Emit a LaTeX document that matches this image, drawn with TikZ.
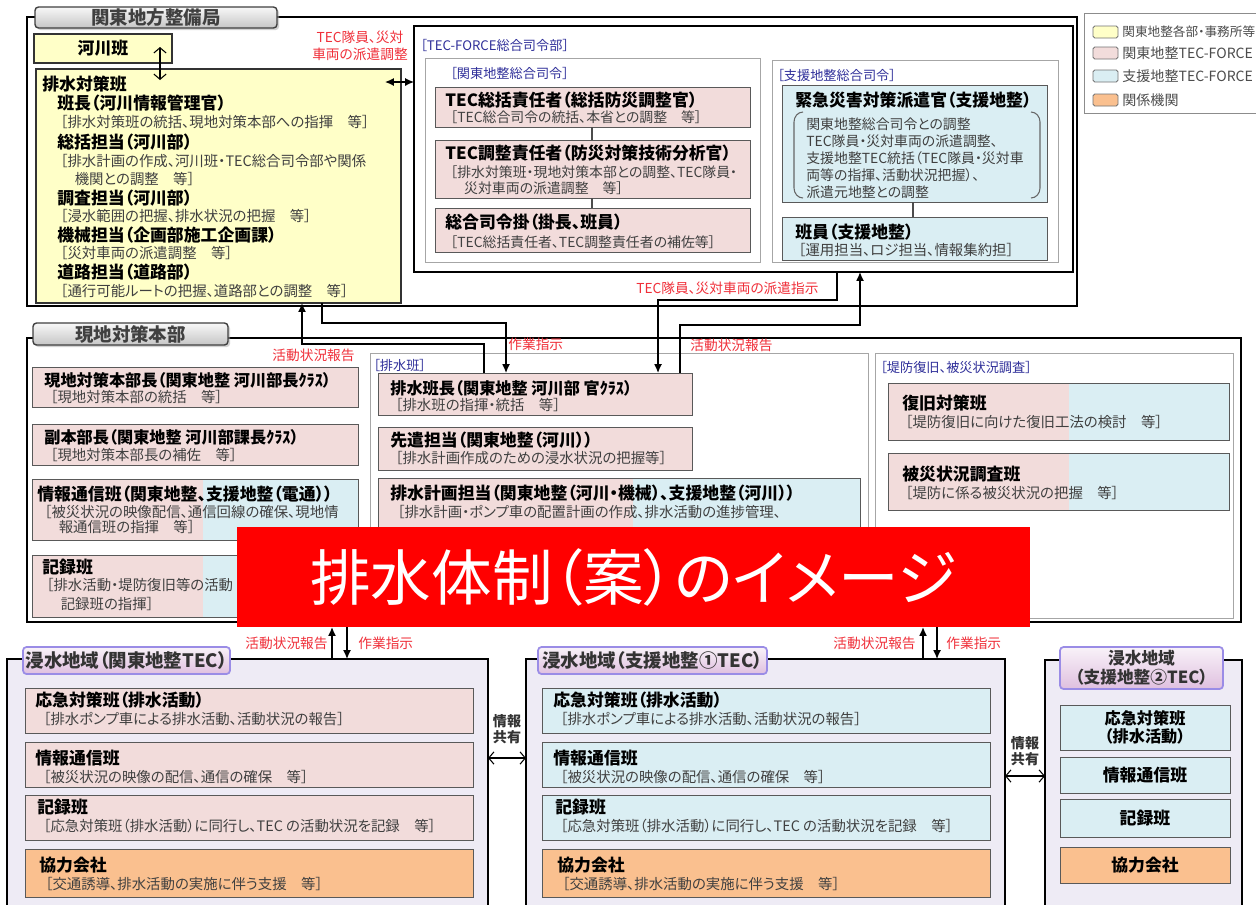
\documentclass[tikz,border=0pt]{standalone}
\usepackage{fontspec}
\setmainfont{Noto Sans CJK JP}[RawFeature={+palt}]
\usetikzlibrary{calc,arrows.meta,shadows}
\definecolor{yel}{HTML}{FFFFC8}
\definecolor{pnk}{HTML}{F2DCDB}
\definecolor{blu}{HTML}{DAEEF3}
\definecolor{org}{HTML}{FAC08F}
\definecolor{lav}{HTML}{EEEBF5}
\definecolor{redt}{HTML}{F0303A}
\definecolor{bluet}{HTML}{30309A}
\definecolor{bnr}{HTML}{FF0000}
\definecolor{subc}{HTML}{404040}
\definecolor{purp}{HTML}{9A8CE6}
\newcommand\mybox[6]{\node[#6, minimum width={(#4-#2)*0.02cm}, minimum height={(#5-#3)*0.02cm}] (#1) at (#2,#3) {};}
\tikzset{
 bx/.style={draw=black!65, line width=0.5pt, inner sep=0pt, outer sep=0pt, anchor=north west},
 outerbox/.style={draw=black, line width=1.1pt, inner sep=0pt, outer sep=0pt, anchor=north west},
 grp/.style={draw=black!35, line width=0.5pt, inner sep=0pt, outer sep=0pt, anchor=north west, fill=white},
 yb/.style={bx, fill=yel, draw=black!80, line width=0.8pt},
 pb/.style={bx, fill=pnk},
 cb/.style={bx, fill=blu},
 ob/.style={bx, fill=org},
 splitbox/.style={bx, fill=pnk, path picture={\fill[blu] ($(path picture bounding box.south west)!#1!(path picture bounding box.south east)$) rectangle (path picture bounding box.north east);}},
 gtab/.style={bx, rounded corners=2pt, draw=black!75, line width=0.8pt, top color=gray!6, bottom color=gray!45, drop shadow={shadow xshift=1.2pt, shadow yshift=-1.2pt, fill=black!35}},
 ptab/.style={bx, rounded corners=2pt, draw=purp, line width=1pt, top color=violet!5, bottom color=violet!25},
 ttl/.style={inner sep=0pt, anchor=west, font=\fontsize{9.6}{11}\selectfont\bfseries},
 ttk/.style={ttl, font=\fontsize{9.2}{11}\selectfont\bfseries},
 sbt/.style={inner sep=0pt, anchor=west, text=subc, font=\fontsize{8.2}{9.5}\selectfont},
 sbk/.style={sbt, font=\fontsize{7.9}{9.5}\selectfont},
 blab/.style={inner sep=0pt, anchor=west, text=bluet, font=\fontsize{7.5}{9}\selectfont},
 rlab/.style={inner sep=0pt, text=redt, font=\fontsize{7.8}{9.5}\selectfont},
 tabt/.style={inner sep=0pt, text=black!75, font=\fontsize{10.5}{12}\selectfont\bfseries},
 legt/.style={inner sep=0pt, anchor=west, text=black!70, font=\fontsize{8}{9}\selectfont},
 arr/.style={draw=black, line width=0.8pt, -{Latex[length=5pt,width=4.5pt]}},
 conn/.style={draw=black!70, line width=0.6pt},
 dbl/.style={draw=black, line width=0.6pt, {Straight Barb[length=3pt,width=7pt]}-{Straight Barb[length=3pt,width=7pt]}},
 dblf/.style={draw=black, line width=0.7pt, {Latex[length=5pt,width=4.5pt]}-{Latex[length=5pt,width=4.5pt]}},
}
\begin{document}
\begin{tikzpicture}[x=0.02cm,y=-0.02cm]
\path[use as bounding box] (0,0) rectangle (1256,904);
\clip (0,0) rectangle (1256,904);
\fill[white] (0,0) rectangle (1256,904);

% ===== top: 関東地方整備局 =====
\mybox{kanto}{27}{17}{1077}{306}{outerbox}
\mybox{kantotab}{35}{7}{277}{28}{gtab}
\node[tabt] (kantoT) at (kantotab) {関東地方整備局};

\mybox{kasen}{34}{34}{172}{63}{yb}
\node[ttl, anchor=center] (kasenT) at (kasen) {河川班};
\mybox{haisui}{36}{69}{401}{303}{yb}
\node[ttl] (y0) at (42,84) {排水対策班};
\node[ttl] (y1) at (57,103) {班長（河川情報管理官）};
\node[sbt] (y1s) at (60,122) {［排水対策班の統括、現地対策本部への指揮　等］};
\node[ttl] (y2) at (57,142) {総括担当（河川部）};
\node[sbt] (y2s) at (60,161) {［排水計画の作成、河川班・TEC総合司令部や関係};
\node[sbt] (y2t) at (60,179) {　機関との調整　等］};
\node[ttl] (y3) at (57,198) {調査担当（河川部）};
\node[sbt] (y3s) at (60,216) {［浸水範囲の把握、排水状況の把握　等］};
\node[ttl] (y4) at (57,235) {機械担当（企画部施工企画課）};
\node[sbt] (y4s) at (60,253) {［災対車両の派遣調整　等］};
\node[ttl] (y5) at (57,272) {道路担当（道路部）};
\node[sbt] (y5s) at (60,291) {［通行可能ルートの把握、道路部との調整　等］};

\coordinate (kA) at (160,47);
\coordinate (kB) at (160,80);
\draw[dbl] (kA) -- (kB);

\node[rlab, align=center] (redA) at (360,46) {TEC隊員、災対\\車両の派遣調整};

% TEC-FORCE総合司令部
\mybox{tec}{414}{26}{1073}{272}{outerbox, fill=white}
\node[blab] (tecL) at (420,45) {［TEC-FORCE総合司令部］};
\mybox{tecK}{425}{58}{760}{262}{grp}
\node[blab] (tecKL) at (450,73) {［関東地整総合司令］};
\mybox{tec1}{435}{87}{750}{127}{pb}
\node[ttl] (t1a) at (445,100) {TEC総括責任者（総括防災調整官）};
\node[sbk] (t1b) at (450,117) {［TEC総合司令の統括、本省との調整　等］};
\mybox{tec2}{435}{140}{750}{198}{pb}
\node[ttl] (t2a) at (445,153) {TEC調整責任者（防災対策技術分析官）};
\node[sbk] (t2b) at (450,172) {［排水対策班・現地対策本部との調整、TEC隊員・};
\node[sbk] (t2c) at (450,188) {　災対車両の派遣調整　等］};
\mybox{tec3}{435}{208}{750}{252}{pb}
\node[ttl] (t3a) at (445,222) {総合司令掛（掛長、班員）};
\node[sbk] (t3b) at (450,242) {［TEC総括責任者、TEC調整責任者の補佐等］};
\draw[conn] (tec1.south -| 592,0) -- (tec2.north -| 592,0);
\draw[conn] (tec2.south -| 592,0) -- (tec3.north -| 592,0);

\mybox{tecS}{772}{60}{1058}{262}{grp}
\node[blab] (tecSL) at (777,75) {［支援地整総合司令］};
\mybox{kin}{782}{85}{1047}{202}{cb}
\node[ttl] (k0) at (795,100) {緊急災害対策派遣官（支援地整）};
\node[sbk] (k1) at (806,124) {関東地整総合司令との調整};
\node[sbk] (k2) at (806,141) {TEC隊員・災対車両の派遣調整、};
\node[sbk] (k3) at (806,158) {支援地整TEC統括（TEC隊員・災対車};
\node[sbk] (k4) at (806,175) {両等の指揮、活動状況把握）、};
\node[sbk] (k5) at (806,192) {派遣元地整との調整};
\draw[conn, black!60] (803,112) to[out=180,in=90] (794,122) -- (794,188) to[out=-90,in=180] (803,198);
\draw[conn, black!60] (1031,112) to[out=0,in=90] (1040,122) -- (1040,188) to[out=-90,in=0] (1031,198);
\mybox{hanin}{782}{217}{1047}{260}{cb}
\node[ttl] (hn0) at (795,232) {班員（支援地整）};
\node[sbt] (hn1) at (798,250) {［運用担当、ロジ担当、情報集約担］};
\draw[conn] (kin.south -| 913,0) -- (hanin.north -| 913,0);

\coordinate (hsR) at (385,82);
\draw[dblf] (hsR) -- (tec.west |- hsR);

% legend
\mybox{legend}{1084}{13}{1275}{113}{bx, draw=black!45}
\mybox{lg1}{1093}{26}{1118}{38}{bx, fill=yel, rounded corners=1pt, draw=black!55}
\mybox{lg2}{1093}{47}{1118}{59}{bx, fill=pnk, rounded corners=1pt, draw=black!55}
\mybox{lg3}{1093}{70}{1118}{82}{bx, fill=blu, rounded corners=1pt, draw=black!55}
\mybox{lg4}{1093}{94}{1118}{106}{bx, fill=org, rounded corners=1pt, draw=black!55}
\node[legt, font=\fontsize{7.2}{9}\selectfont] (lt1) at (1122,32) {関東地整各部・事務所等};
\node[legt] (lt2) at (1122,53) {関東地整TEC-FORCE};
\node[legt] (lt3) at (1122,76) {支援地整TEC-FORCE};
\node[legt] (lt4) at (1122,100) {関係機関};

% ===== middle: 現地対策本部 =====
\mybox{genchi}{27}{338}{1241}{622}{outerbox}
\mybox{genchitab}{33}{323}{228}{345}{gtab}
\node[tabt] (genchiT) at (genchitab) {現地対策本部};
\node[rlab, anchor=east] (redB) at (355,355) {活動状況報告};

\mybox{g1}{32}{367}{358}{407}{pb}
\node[ttk] (g1a) at (44,380) {現地対策本部長（関東地整 河川部長ｸﾗｽ）};
\node[sbt] (g1b) at (50,397) {［現地対策本部の統括　等］};
\mybox{g2}{32}{424}{358}{465}{pb}
\node[ttk] (g2a) at (44,437) {副本部長（関東地整 河川部課長ｸﾗｽ）};
\node[sbt] (g2b) at (50,455) {［現地対策本部長の補佐　等］};
\mybox{g3}{32}{479}{358}{540}{splitbox=0.523}
\node[ttl] (g3a) at (37,494) {情報通信班（関東地整、支援地整（電通））};
\node[sbt] (g3b) at (44,512) {［被災状況の映像配信、通信回線の確保、現地情};
\node[sbt] (g3c) at (44,527) {　報通信班の指揮　等］};
\mybox{g4}{32}{555}{358}{617}{splitbox=0.523}
\node[ttl] (g4a) at (42,567) {記録班};
\node[sbt] (g4b) at (46,585) {［排水活動・堤防復旧等の活動};
\node[sbt] (g4c) at (46,604) {　記録班の指揮］};

\mybox{hb}{370}{353}{868}{619}{grp}
\node[blab] (hbL) at (373,365) {［排水班］};
\mybox{h1}{378}{373}{692}{415}{pb}
\node[ttk] (h1a) at (390,388) {排水班長（関東地整 河川部 官ｸﾗｽ）};
\node[sbt] (h1b) at (395,405) {［排水班の指揮・統括　等］};
\mybox{h2}{378}{427}{692}{470}{pb}
\node[ttl] (h2a) at (390,440) {先遣担当（関東地整（河川））};
\node[sbt] (h2b) at (395,458) {［排水計画作成のための浸水状況の把握等］};
\mybox{h3}{378}{478}{860}{565}{splitbox=0.529}
\node[ttl] (h3a) at (390,493) {排水計画担当（関東地整（河川・機械）、支援地整（河川））};
\node[sbt] (h3b) at (397,512) {［排水計画・ポンプ車の配置計画の作成、排水活動の進捗管理、};

\mybox{tb}{875}{353}{1233}{618}{grp}
\node[blab] (tbL) at (880,367) {［堤防復旧、被災状況調査］};
\mybox{tb1}{888}{383}{1229}{440}{splitbox=0.531}
\node[ttl] (tb1a) at (902,403) {復旧対策班};
\node[sbt] (tb1b) at (905,422) {［堤防復旧に向けた復旧工法の検討　等］};
\mybox{tb2}{888}{453}{1229}{510}{splitbox=0.531}
\node[ttl] (tb2a) at (902,474) {被災状況調査班};
\node[sbt] (tb2b) at (905,493) {［堤防に係る被災状況の把握　等］};

% connectors top <-> middle
\draw[arr] (haisui.south -| 322,0) -- (322,323) -- (506,323) -- (h1.north -| 506,0);
\draw[arr] (h1.north -| 484,0) -- (484,344) -- (302,344) -- (haisui.south -| 302,0);
\draw[arr] (tec.south -| 837,0) -- (837,300) -- (658,300) -- (h1.north -| 658,0);
\draw[arr] (h1.north -| 680,0) -- (680,325) -- (860,325) -- (tec.south -| 860,0);
\node[rlab, anchor=west] (redC) at (508,344) {作業指示};
\node[rlab, anchor=west] (redD) at (690,345) {活動状況報告};
\node[rlab, anchor=west] (redE) at (636,288) {TEC隊員、災対車両の派遣指示};

% banner
\mybox{banner}{237}{527}{1030}{627}{inner sep=0pt, outer sep=0pt, anchor=north west, fill=bnr}
\node[text=white, inner sep=0pt, font=\fontsize{34.5}{37}\selectfont] (bannerT) at (banner) {排水体制（案）のイメージ};

% ===== bottom =====
\mybox{bl}{7}{659}{488}{915}{outerbox, line width=0.9pt, fill=lav}
\mybox{bltab}{23}{647}{230}{674}{ptab}
\node[tabt, text=black!80] (blT) at (bltab) {浸水地域（関東地整TEC）};
\mybox{bl1}{25}{688}{473}{733}{pb}
\node[ttl] (bl1a) at (35,700) {応急対策班（排水活動）};
\node[sbt] (bl1b) at (43,719) {［排水ポンプ車による排水活動、活動状況の報告］};
\mybox{bl2}{25}{742}{473}{787}{pb}
\node[ttl] (bl2a) at (35,758) {情報通信班};
\node[sbt] (bl2b) at (43,777) {［被災状況の映像の配信、通信の確保　等］};
\mybox{bl3}{25}{795}{473}{840}{pb}
\node[ttl] (bl3a) at (37,807) {記録班};
\node[sbt] (bl3b) at (43,826) {［応急対策班（排水活動）に同行し、TEC の活動状況を記録　等］};
\mybox{bl4}{25}{849}{473}{897}{ob}
\node[ttl] (bl4a) at (39,865) {協力会社};
\node[sbt] (bl4b) at (45,884) {［交通誘導、排水活動の実施に伴う支援　等］};

\mybox{bm}{526}{659}{1005}{915}{outerbox, line width=0.9pt, fill=lav}
\mybox{bmtab}{538}{647}{767}{674}{ptab}
\node[tabt, text=black!80] (bmT) at (bmtab) {浸水地域（支援地整①TEC）};
\mybox{bm1}{542}{688}{990}{733}{cb}
\node[ttl] (bm1a) at (553,700) {応急対策班（排水活動）};
\node[sbt] (bm1b) at (560,719) {［排水ポンプ車による排水活動、活動状況の報告］};
\mybox{bm2}{542}{742}{990}{787}{cb}
\node[ttl] (bm2a) at (553,758) {情報通信班};
\node[sbt] (bm2b) at (560,777) {［被災状況の映像の配信、通信の確保　等］};
\mybox{bm3}{542}{795}{990}{840}{cb}
\node[ttl] (bm3a) at (555,807) {記録班};
\node[sbt] (bm3b) at (560,826) {［応急対策班（排水活動）に同行し、TEC の活動状況を記録　等］};
\mybox{bm4}{542}{849}{990}{897}{ob}
\node[ttl] (bm4a) at (557,865) {協力会社};
\node[sbt] (bm4b) at (562,884) {［交通誘導、排水活動の実施に伴う支援　等］};

\mybox{br}{1045}{660}{1242}{915}{outerbox, line width=0.9pt, fill=lav}
\mybox{brtab}{1060}{647}{1223}{689}{ptab}
\node[tabt, text=black!80, align=center, font=\fontsize{9.5}{11}\selectfont\bfseries] (brT) at (brtab) {浸水地域\\（支援地整②TEC）};
\mybox{br1}{1060}{705}{1230}{750}{cb}
\node[ttl, anchor=center, align=center, font=\fontsize{9.2}{10.5}\selectfont\bfseries] (br1a) at (br1) {応急対策班\\（排水活動）};
\mybox{br2}{1060}{757}{1230}{793}{cb}
\node[ttl, anchor=center] (br2a) at (br2) {情報通信班};
\mybox{br3}{1060}{799}{1230}{837}{cb}
\node[ttl, anchor=center] (br3a) at (br3) {記録班};
\mybox{br4}{1060}{847}{1230}{883}{ob}
\node[ttl, anchor=center] (br4a) at (br4) {協力会社};

% bottom connectors
\draw[arr] (bl.north -| 332,0) -- (banner.south -| 332,0);
\draw[arr] (banner.south -| 347,0) -- (bl.north -| 347,0);
\node[rlab, anchor=east] (redF) at (328,643) {活動状況報告};
\node[rlab, anchor=west] (redG) at (358,643) {作業指示};
\draw[arr] (bm.north -| 923,0) -- (banner.south -| 923,0);
\draw[arr] (banner.south -| 937,0) -- (bm.north -| 937,0);
\node[rlab, anchor=east] (redH) at (916,643) {活動状況報告};
\node[rlab, anchor=west] (redI) at (946,643) {作業指示};

\node[ttl, anchor=center, align=center, font=\fontsize{8}{9.5}\selectfont\bfseries, text=black!80] (share1) at (507,729) {情報\\共有};
\draw[dbl] (bl.east |- 0,758) -- (bm.west |- 0,758);
\node[ttl, anchor=center, align=center, font=\fontsize{8}{9.5}\selectfont\bfseries, text=black!80] (share2) at (1025,751) {情報\\共有};
\draw[dbl] (bm.east |- 0,776) -- (br.west |- 0,776);
\end{tikzpicture}
\end{document}
